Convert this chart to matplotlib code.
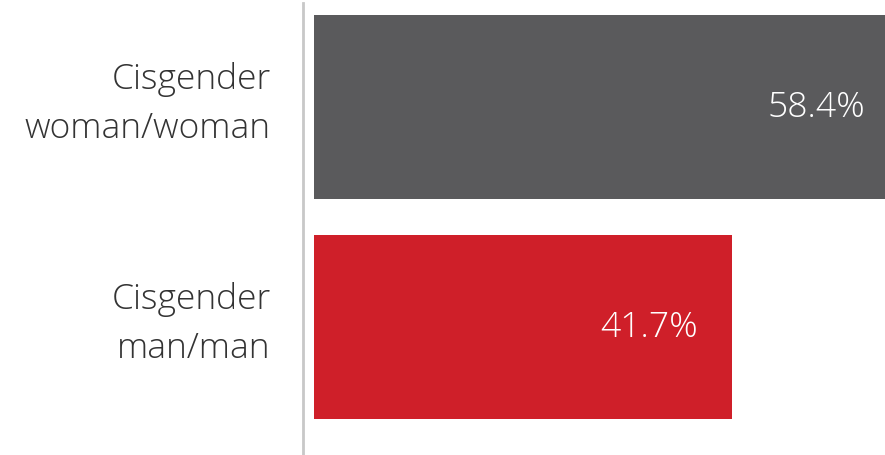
import matplotlib.pyplot as plt
from matplotlib.transforms import ScaledTranslation

# data
categories = ['Cisgender\nman/man', 'Cisgender\nwoman/woman']
values = [41.7, 58.4]
bar_colors = ['#cf1f29', '#5a5a5c']

plt.rcParams['font.family'] = ['Open Sans', 'DejaVu Sans']

fig = plt.figure(figsize=(8.85, 4.56), dpi=100)
ax = fig.add_axes([302.5 / 885, 1 / 456, 1 - 302.5 / 885, 451 / 456])

pos = list(range(len(categories)))
ax.barh(pos, values, height=0.836, color=bar_colors)

for p, v in zip(pos, values):
    ax.text(v - 3.4, p, f'{v}%', ha='right', va='center',
            color='white', fontsize=25.5, fontweight='light')

ax.set_xlim(-1.096, 56.92)
ax.set_ylim(-0.577, 1.473)
ax.set_yticks(pos)
ax.set_yticklabels(categories, fontsize=25.5, fontweight='light',
                   color='#333333', ha='right', linespacing=1.52)
ax.tick_params(axis='y', length=0, pad=23)
ax.set_xticks([])

# nudge the category labels up a little
shift = ScaledTranslation(0, 0.15, fig.dpi_scale_trans)
for lbl in ax.get_yticklabels():
    lbl.set_transform(lbl.get_transform() + shift)

for s in ['top', 'right', 'bottom']:
    ax.spines[s].set_visible(False)
ax.spines['left'].set_color('#c8c8c8')
ax.spines['left'].set_linewidth(2)

fig.savefig('out.png', dpi=100)
